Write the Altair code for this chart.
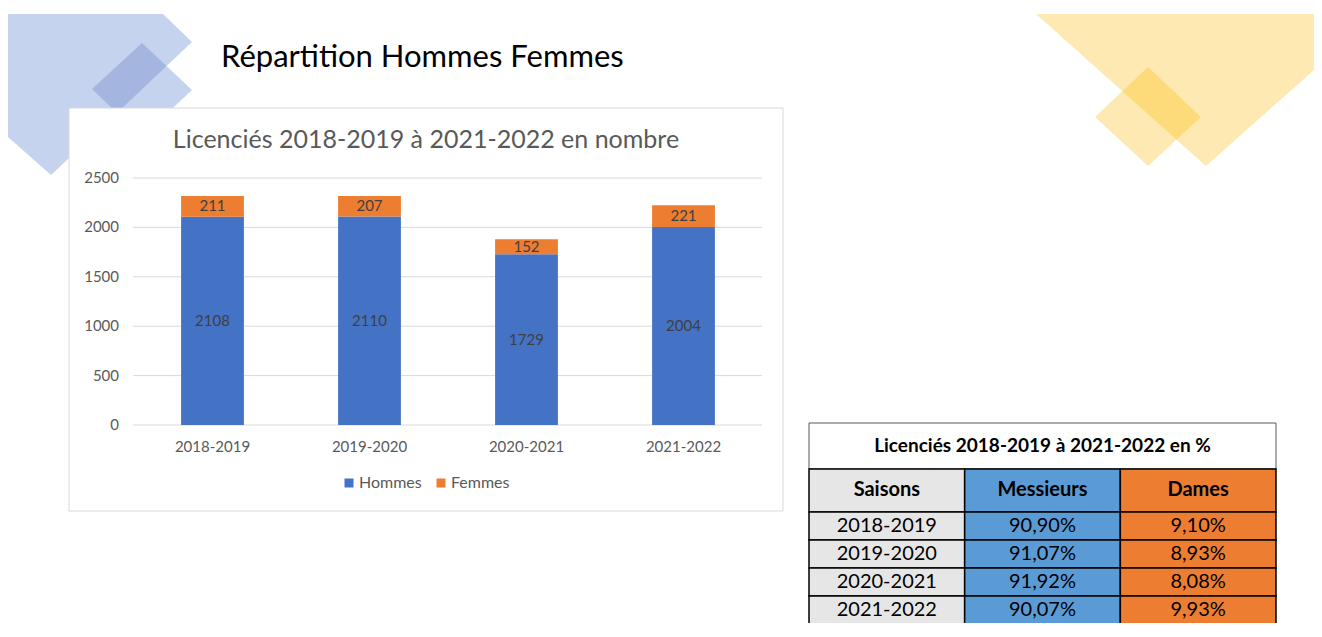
import altair as alt
import pandas as pd

# ---------------- data ----------------
seasons = ["2018-2019", "2019-2020", "2020-2021", "2021-2022"]
hommes = [2108, 2110, 1729, 2004]
femmes = [211, 207, 152, 221]
series = ["Hommes", "Femmes"]
y_ticks = [0, 500, 1000, 1500, 2000, 2500]

table_headers = ["Saisons", "Messieurs", "Dames"]
pct_messieurs = ["90,90%", "91,07%", "91,92%", "90,07%"]
pct_dames = ["9,10%", "8,93%", "8,08%", "9,93%"]

main_title = "Répartition Hommes Femmes"
chart_title = "Licenciés 2018-2019 à 2021-2022 en nombre"
table_title = "Licenciés 2018-2019 à 2021-2022 en %"

# ---------------- styles ----------------
FONT = "Lato"
BLUE, ORANGE = "#4472C4", "#ED7D31"
AXIS_TXT = "#595959"
GRID = "#D9D9D9"
TABLE_FILLS = ["#E7E6E6", "#5B9BD5", "#ED7D31"]

# ---------------- tables built from the arrays ----------------
bar_df = pd.DataFrame(
    [{"season": s, "serie": "Hommes", "ord": 0, "value": h} for s, h in zip(seasons, hommes)]
    + [{"season": s, "serie": "Femmes", "ord": 1, "value": f} for s, f in zip(seasons, femmes)]
)
tick_df = pd.DataFrame({"t": y_ticks})
season_df = pd.DataFrame({"season": seasons})

TITLE_H, HEAD_H, ROW_H = 1.64, 1.54, 1.0
edges = [0.0, TITLE_H, TITLE_H + HEAD_H]
for _ in seasons:
    edges.append(edges[-1] + ROW_H)
rows_text = [table_headers] + [[s, m, d] for s, m, d in zip(seasons, pct_messieurs, pct_dames)]
cells = []
for ri, row in enumerate(rows_text):
    for ci, txt in enumerate(row):
        cells.append({
            "col": table_headers[ci], "c0": ci, "c1": ci + 1, "cm": ci + 0.5,
            "r0": edges[ri + 1], "r1": edges[ri + 2], "rm": (edges[ri + 1] + edges[ri + 2]) / 2,
            "text": txt, "head": ri == 0,
        })
cell_df = pd.DataFrame(cells)
title_df = pd.DataFrame([{"c0": 0, "c1": len(table_headers), "cm": len(table_headers) / 2,
                          "r0": edges[0], "r1": edges[1], "rm": (edges[0] + edges[1]) / 2,
                          "text": table_title}])
one = pd.DataFrame({"i": [0]})

# ---------------- decorations ----------------
def deco(path, color):
    return alt.Chart(one).mark_point(
        shape=path, size=4, filled=True, fill=color, opacity=1, strokeWidth=0
    ).encode(x=alt.value(0), y=alt.value(0))

decos = [
    deco("M0,6L155,6L184,34L43,167L0,129Z", "#C6D3EE"),
    deco("M134,35L184,82L134,129L84,81Z", "#C6D3EE"),
    deco("M134,35L158.5,58L109,105L84,81Z", "#A4B6E0"),
    deco("M1028,6L1306,6L1306,62L1198,158Z", "#FEE9B3"),
    deco("M1140,59L1193,109L1140,158L1087,109Z", "#FEE9B3"),
    deco("M1140,59L1193,109L1168.5,131.6L1114.3,83.2Z", "#FEDB7A"),
]

frame = alt.Chart(one).mark_rect(fill="white", stroke=GRID, strokeWidth=1).encode(
    x=alt.value(61), x2=alt.value(775), y=alt.value(100), y2=alt.value(503)
)
title_txt = alt.Chart(one).mark_text(
    text=main_title, font=FONT, fontSize=31, color="black", align="left", baseline="middle"
).encode(x=alt.value(213), y=alt.value(50))
ctitle_txt = alt.Chart(one).mark_text(
    text=chart_title, font=FONT, fontSize=25, color=AXIS_TXT, align="center", baseline="middle"
).encode(x=alt.value(418), y=alt.value(132))

# ---------------- bar chart ----------------
XS = alt.Scale(domain=seasons, range=[126, 754], paddingInner=0.6, paddingOuter=0.3)
YS = alt.Scale(domain=[0, 2500], range=[417, 170], nice=False, zero=True)
X = alt.X("season:N", sort=seasons, scale=XS, axis=None)

grid = alt.Chart(tick_df).mark_rule(color=GRID, strokeWidth=1).encode(
    y=alt.Y("t:Q", scale=YS, axis=None), x=alt.value(125), x2=alt.value(754)
)
ylabels = alt.Chart(tick_df).mark_text(
    font=FONT, fontSize=15, color=AXIS_TXT, align="right", baseline="middle"
).encode(y=alt.Y("t:Q", scale=YS, axis=None), x=alt.value(111), text=alt.Text("t:Q", format="d"))

stacked = alt.Chart(bar_df).transform_stack(
    stack="value", groupby=["season"], as_=["v0", "v1"], sort=[alt.SortField("ord", order="ascending")]
).transform_calculate(mid="(datum.v0 + datum.v1) / 2")

bars = stacked.mark_bar().encode(
    x=X,
    y=alt.Y("v0:Q", scale=YS, axis=None),
    y2="v1:Q",
    color=alt.Color(
        "serie:N",
        scale=alt.Scale(domain=series, range=[BLUE, ORANGE]),
        legend=alt.Legend(
            orient="none", legendX=333, legendY=467, direction="horizontal", title=None,
            symbolType="square", symbolSize=81, symbolStrokeWidth=0,
            labelFont=FONT, labelFontSize=16, labelColor=AXIS_TXT, labelOffset=2,
            columnPadding=11,
        ),
    ),
)
vlabels = stacked.mark_text(font=FONT, fontSize=15, color="#404040", baseline="middle").encode(
    x=X, y=alt.Y("mid:Q", scale=YS, axis=None), text=alt.Text("value:Q", format="d")
)
xlabels = alt.Chart(season_df).mark_text(
    font=FONT, fontSize=15, color=AXIS_TXT, baseline="middle"
).encode(x=X, y=alt.value(439), text="season:N")

bar_group = alt.layer(grid, ylabels, bars, vlabels, xlabels)

# ---------------- table ----------------
TX = alt.Scale(domain=[0, len(table_headers)], range=[801, 1268], nice=False, zero=False)
TY = alt.Scale(domain=[0, 10], range=[415, 695], nice=False, zero=False)

t_title_rect = alt.Chart(title_df).mark_rect(fill="white", stroke="#595959", strokeWidth=1).encode(
    x=alt.X("c0:Q", scale=TX, axis=None), x2="c1:Q",
    y=alt.Y("r0:Q", scale=TY, axis=None), y2="r1:Q",
)
t_title_txt = alt.Chart(title_df).mark_text(
    font=FONT, fontSize=19, fontWeight="bold", color="black", baseline="middle"
).encode(x=alt.X("cm:Q", scale=TX, axis=None), y=alt.Y("rm:Q", scale=TY, axis=None), text="text:N")
t_cells = alt.Chart(cell_df).mark_rect(stroke="black", strokeWidth=1.5).encode(
    x=alt.X("c0:Q", scale=TX, axis=None), x2="c1:Q",
    y=alt.Y("r0:Q", scale=TY, axis=None), y2="r1:Q",
    color=alt.Color("col:N", scale=alt.Scale(domain=table_headers, range=TABLE_FILLS), legend=None),
)
t_head = alt.Chart(cell_df).transform_filter("datum.head").mark_text(
    font=FONT, fontSize=20, fontWeight="bold", color="black", baseline="middle"
).encode(x=alt.X("cm:Q", scale=TX, axis=None), y=alt.Y("rm:Q", scale=TY, axis=None), text="text:N")
t_body = alt.Chart(cell_df).transform_filter("!datum.head").mark_text(
    font=FONT, fontSize=20, color="black", baseline="middle"
).encode(x=alt.X("cm:Q", scale=TX, axis=None), y=alt.Y("rm:Q", scale=TY, axis=None), text="text:N")

table_group = alt.layer(t_title_rect, t_title_txt, t_cells, t_head, t_body)

chart = alt.layer(
    *decos, frame, title_txt, ctitle_txt, bar_group, table_group
).resolve_scale(
    x="independent", y="independent", color="independent"
).properties(
    width=1306, height=615, autosize=alt.AutoSizeParams(type="none"), padding=0,
    background="white",
).configure_view(strokeWidth=0)

chart.save("out.html", embed_options={"renderer": "svg", "actions": False})
